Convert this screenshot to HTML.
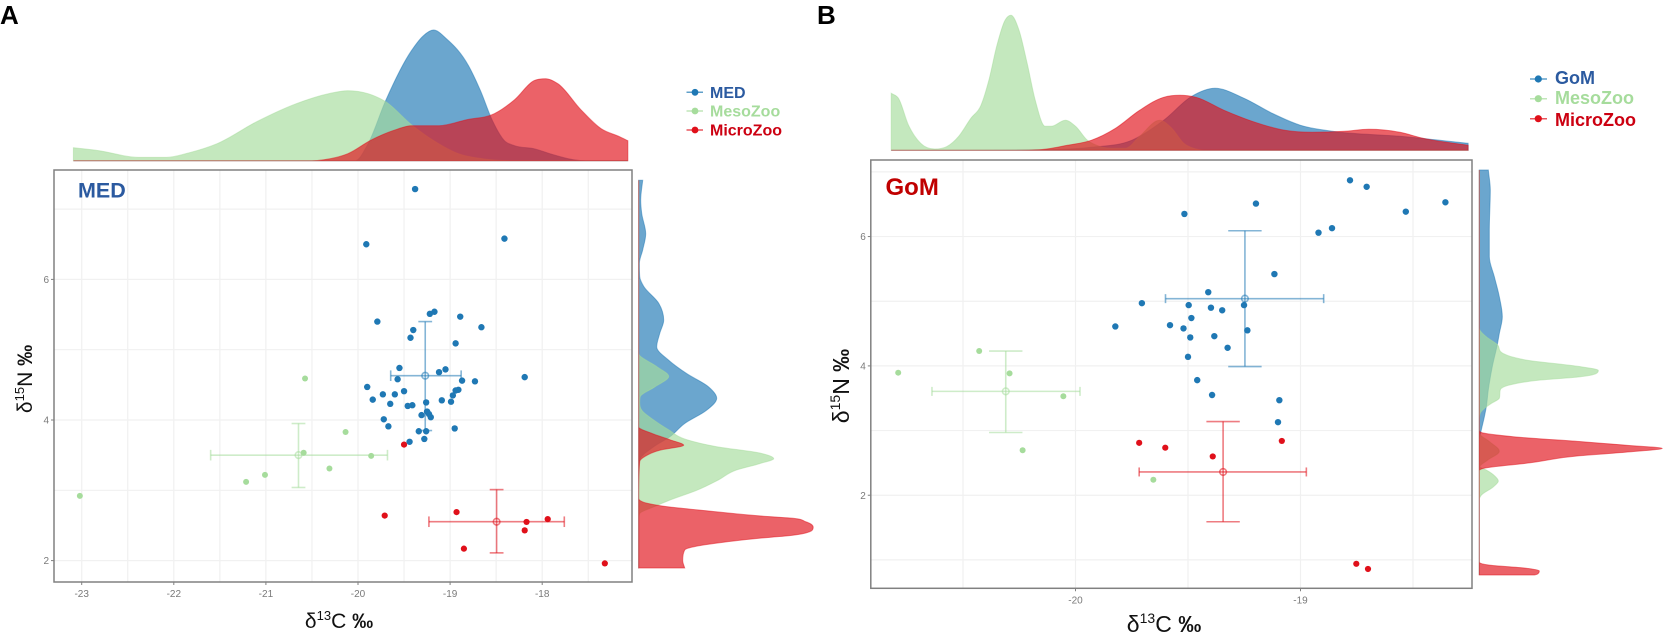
<!DOCTYPE html>
<html lang="en">
<head>
<meta charset="utf-8">
<title>Isotope biplots MED and GoM</title>
<style>
html,body{margin:0;padding:0;background:#fff;}
body{width:1665px;height:635px;overflow:hidden;}
svg{display:block;font-family:"Liberation Sans",sans-serif;filter:blur(0.35px);}
</style>
</head>
<body>
<svg id="chart" width="1665" height="635" viewBox="0 0 1665 635" xmlns="http://www.w3.org/2000/svg">
<rect width="1665" height="635" fill="#fff"/>
<text x="0" y="24" font-size="26" font-weight="700" fill="#000">A</text>
<text x="817" y="24" font-size="26" font-weight="700" fill="#000">B</text>
<g id="panelA"></g>
<g id="panelB"></g>
<text x="78" y="197.5" font-size="21.5" font-weight="700" fill="#2b5aa0">MED</text>
<text x="885.5" y="195" font-size="24" font-weight="700" fill="#c00000">GoM</text>
<text x="339" y="628" font-size="21" text-anchor="middle" fill="#111">δ<tspan font-size="13" dy="-8">13</tspan><tspan dy="8">C </tspan><tspan font-weight="700">‰</tspan></text>
<text transform="translate(32 379) rotate(-90)" font-size="21" text-anchor="middle" fill="#111">δ<tspan font-size="13" dy="-8">15</tspan><tspan dy="8">N </tspan><tspan font-weight="700">‰</tspan></text>
<text x="1164" y="632" font-size="23" text-anchor="middle" fill="#111">δ<tspan font-size="14" dy="-9">13</tspan><tspan dy="9">C </tspan><tspan font-weight="700">‰</tspan></text>
<text transform="translate(849 386) rotate(-90)" font-size="23" text-anchor="middle" fill="#111">δ<tspan font-size="14" dy="-9">15</tspan><tspan dy="9">N </tspan><tspan font-weight="700">‰</tspan></text>
<g>
<g><line x1="686.5" x2="703" y1="92.3" y2="92.3" stroke="#1f78b4" stroke-width="1.5" opacity=".7"/><circle cx="695" cy="92.3" r="3.4" fill="#1f78b4"/><text x="710" y="98" font-size="16" font-weight="700" fill="#2b5aa0">MED</text></g>
<g><line x1="686.5" x2="703" y1="111" y2="111" stroke="#a6dc9c" stroke-width="1.5" opacity=".7"/><circle cx="695" cy="111" r="3.4" fill="#a6dc9c"/><text x="710" y="116.7" font-size="16" font-weight="700" fill="#a6dc9c">MesoZoo</text></g>
<g><line x1="686.5" x2="703" y1="130" y2="130" stroke="#e0101a" stroke-width="1.5" opacity=".7"/><circle cx="695" cy="130" r="3.4" fill="#e0101a"/><text x="710" y="135.7" font-size="16" font-weight="700" fill="#cc0011">MicroZoo</text></g>
</g>
<g>
<g><line x1="1530" x2="1547" y1="79" y2="79" stroke="#1f78b4" stroke-width="1.5" opacity=".7"/><circle cx="1538.3" cy="79" r="3.6" fill="#1f78b4"/><text x="1555" y="84" font-size="18" font-weight="700" fill="#2b5aa0">GoM</text></g>
<g><line x1="1530" x2="1547" y1="98.7" y2="98.7" stroke="#a6dc9c" stroke-width="1.5" opacity=".7"/><circle cx="1538.3" cy="98.7" r="3.6" fill="#a6dc9c"/><text x="1555" y="104" font-size="18" font-weight="700" fill="#a6dc9c">MesoZoo</text></g>
<g><line x1="1530" x2="1547" y1="118.7" y2="118.7" stroke="#e0101a" stroke-width="1.5" opacity=".7"/><circle cx="1538.3" cy="118.7" r="3.6" fill="#e0101a"/><text x="1555" y="126" font-size="18" font-weight="700" fill="#cc0011">MicroZoo</text></g>
</g>
</svg>
<script>
// ===== Panel A (MED) data =====
const aXTicks = [-23, -22, -21, -20, -19, -18];
const aXGrid = [-23, -22.5, -22, -21.5, -21, -20.5, -20, -19.5, -19, -18.5, -18, -17.5];
const aYTicks = [2, 4, 6];
const aYGrid = [2, 3, 4, 5, 6, 7];

const aBlueX = [-19.38,-19.91,-18.41,-19.22,-19.17,-18.89,-19.79,-18.66,-19.40,-19.43,-18.94,-19.55,-19.12,-19.05,-19.57,-18.87,-18.73,-18.19,-19.90,-19.50,-19.60,-19.73,-18.94,-18.91,-18.97,-19.84,-19.65,-19.46,-19.41,-19.26,-19.09,-18.99,-19.31,-19.25,-19.23,-19.21,-19.72,-19.67,-18.95,-19.34,-19.26,-19.28,-19.44];
const aBlueY = [7.285,6.50,6.58,5.51,5.54,5.47,5.40,5.32,5.28,5.17,5.09,4.74,4.68,4.72,4.58,4.56,4.55,4.61,4.47,4.41,4.365,4.365,4.42,4.43,4.35,4.29,4.23,4.20,4.21,4.25,4.28,4.26,4.07,4.12,4.085,4.04,4.01,3.91,3.88,3.84,3.84,3.73,3.69];
const aGreenX = [-23.02,-21.215,-21.01,-20.59,-20.31,-20.135,-19.857,-20.575];
const aGreenY = [2.92,3.12,3.22,3.535,3.31,3.83,3.49,4.59];
const aRedX = [-19.50,-19.71,-18.93,-18.17,-18.19,-17.94,-18.85,-17.32];
const aRedY = [3.65,2.64,2.69,2.55,2.43,2.59,2.17,1.96];

const aBlueMean = [-19.27, 4.63];
const aBlueRangeX = [-19.645, -18.88];
const aBlueRangeY = [3.85, 5.40];
const aGreenMean = [-20.646, 3.50];
const aGreenRangeX = [-21.60, -19.68];
const aGreenRangeY = [3.04, 3.95];
const aRedMean = [-18.495, 2.553];
const aRedRangeX = [-19.23, -17.76];
const aRedRangeY = [2.11, 3.01];

const aTopBlueV = [-23.09,-20.03,-19.89,-19.70,-19.42,-19.29,-19.18,-19.04,-18.80,-18.67,-18.54,-18.41,-18.30,-18.09,-17.88,-17.66,-17.53,-17.07];
const aTopBlueD = [0,0,17,60,110,125,130.7,122,95,70,40,20,15,12,6,1,0,0];
const aTopGreenV = [-23.09,-22.81,-22.385,-22.08,-21.83,-21.53,-21.10,-20.67,-20.32,-20.11,-19.89,-19.70,-19.42,-19.16,-18.91,-18.65,-18.30,-17.07];
const aTopGreenD = [13,10,3.3,3.3,8,17,39,57,67,70,67,59,36,19,7,2,0,0];
const aTopRedV = [-23.09,-20.5,-20.37,-20.11,-19.85,-19.59,-19.42,-19.12,-18.82,-18.52,-18.30,-18.09,-17.96,-17.83,-17.58,-17.36,-17.16,-17.07];
const aTopRedD = [0,0,1,7,21,31,35,35,41,47,61,80,82,77,51,32,24,20];

const aSideBlueV = [7.41,7.13,6.94,6.65,6.42,6.23,6.04,5.90,5.66,5.42,5.23,5.04,4.85,4.66,4.47,4.31,4.14,3.95,3.76,3.62,3.43,3.19,1.89];
const aSideBlueD = [4,2,3,7,4,0.7,1,5,20,25,21,18,30,48,70,78,68,46,31,15,1,0,0];
const aSideGreenV = [7.41,4.95,4.76,4.62,4.47,4.33,4.24,4.14,4.00,3.86,3.72,3.62,3.53,3.45,3.38,3.29,3.15,3.00,2.86,2.77,2.67,2.58,1.89];
const aSideGreenD = [0,0,18,30,16,1.5,1,3,15,30,48,78,121,135,121,98,80,58,31,16,1,0,0];
const aSideRedV = [7.41,3.90,3.81,3.72,3.64,3.57,3.48,3.41,2.885,2.81,2.762,2.72,2.625,2.606,2.553,2.474,2.393,2.35,2.331,2.279,2.151,2.0,1.895];
const aSideRedD = [0,0,13,31,45,21,6,1,0,10,31,60,131,151,167,174.5,167,147,131,95,46,44,46];

// ===== Panel B (GoM) data =====
const bXTicks = [-20, -19];
const bXGrid = [-20.5, -20, -19.5, -19, -18.5];
const bYTicks = [2, 4, 6];
const bYGrid = [1, 2, 3, 4, 5, 6, 7];

const bBlueX = [-18.78,-18.706,-19.198,-19.516,-18.92,-18.86,-19.116,-19.41,-19.705,-19.497,-19.398,-19.348,-19.251,-19.485,-19.58,-19.52,-19.823,-19.49,-19.383,-19.236,-19.324,-19.50,-19.459,-19.393,-19.094,-19.10,-18.532,-18.356];
const bBlueY = [6.87,6.77,6.51,6.35,6.06,6.13,5.42,5.14,4.97,4.94,4.90,4.86,4.94,4.74,4.63,4.58,4.61,4.44,4.46,4.55,4.28,4.14,3.78,3.55,3.47,3.13,6.385,6.53];
const bGreenX = [-20.788,-20.428,-20.293,-20.054,-20.235,-19.654];
const bGreenY = [3.895,4.23,3.885,3.53,2.695,2.24];
const bRedX = [-19.717,-19.601,-19.39,-19.083,-18.752,-18.70];
const bRedY = [2.81,2.735,2.60,2.84,0.94,0.86];

const bBlueMean = [-19.247, 5.04];
const bBlueRangeX = [-19.60, -18.897];
const bBlueRangeY = [3.99, 6.09];
const bGreenMean = [-20.31, 3.606];
const bGreenRangeX = [-20.638, -19.98];
const bGreenRangeY = [2.97, 4.23];
const bRedMean = [-19.344, 2.36];
const bRedRangeX = [-19.717, -18.974];
const bRedRangeY = [1.59, 3.14];

const bTopBlueV = [-20.82,-20.162,-19.93,-19.75,-19.608,-19.483,-19.38,-19.251,-19.126,-19.0,-18.858,-18.558,-18.255];
const bTopBlueD = [0,0.5,3,10,30,54,62,52,37,25,19,14,7];
const bTopGreenV = [-20.819,-20.787,-20.742,-20.688,-20.626,-20.572,-20.519,-20.465,-20.42,-20.385,-20.349,-20.313,-20.287,-20.251,-20.215,-20.179,-20.135,-20.108,-20.045,-20.0,-19.947,-19.894,-19.822,-19.778,-19.715,-19.626,-19.572,-19.519,-19.465,-19.412,-18.255];
const bTopGreenD = [57,52,25,7,1.3,3.7,14,32,45,70,105,130,135,120,87,50,24,24,30,24,10,4,2,2,14,30,22,7,1.3,0,0];
const bTopRedV = [-20.819,-20.3,-20.162,-20.036,-19.93,-19.822,-19.715,-19.608,-19.536,-19.465,-19.34,-19.215,-19.07,-18.947,-18.804,-18.697,-18.558,-18.456,-18.255];
const bTopRedD = [0,0,0.5,5,10,22,40,53,55,53,40,29,20,18,19,21,18,12,5];

const bSideBlueV = [7.03,6.72,6.10,5.69,5.38,5.07,4.76,4.50,4.33,3.99,3.63,3.37,3.21,3.01,2.85,0.766];
const bSideBlueD = [9,11,10,10,15,20,23,20,18,13,9,7,5,2,0,0];
const bSideGreenV = [7.03,4.58,4.45,4.33,4.19,4.09,3.99,3.93,3.83,3.78,3.70,3.63,3.50,3.42,3.27,3.16,2.96,2.83,2.68,2.54,2.44,2.39,2.29,2.22,2.13,2.0,1.93,0.766];
const bSideGreenD = [0,0,7,18,24,47,100,119,100,60,29,21,20,12,1,0,0,10,20,8,0.5,7,16,19,14,2,0,0];
const bSideRedV = [7.03,3.01,2.97,2.905,2.83,2.77,2.725,2.67,2.61,2.50,2.415,2.38,0.968,0.92,0.875,0.83,0.78,0.766];
const bSideRedD = [0,0,2,34,100,150,183,150,100,50,4,0,0,10,45,60,58,55];

const SVGNS = 'http://www.w3.org/2000/svg';
const BLUE = '#1f78b4', GREEN = '#a6dc9c', RED = '#e0101a';

function mk(parent, tag, attrs) {
  const el = document.createElementNS(SVGNS, tag);
  for (const k in attrs) el.setAttribute(k, attrs[k]);
  parent.appendChild(el);
  return el;
}
function monotonePts(p) {
  const n = p.length, dx = [], m = [], t = [];
  for (let i = 0; i < n - 1; i++) {
    dx[i] = p[i + 1][0] - p[i][0];
    m[i] = (p[i + 1][1] - p[i][1]) / (dx[i] || 1e-6);
  }
  t[0] = m[0]; t[n - 1] = m[n - 2];
  for (let i = 1; i < n - 1; i++) {
    if (m[i - 1] * m[i] <= 0) { t[i] = 0; continue; }
    const central = (m[i - 1] * dx[i] + m[i] * dx[i - 1]) / (dx[i] + dx[i - 1]);
    const limit = 3 * Math.min(Math.abs(m[i - 1]), Math.abs(m[i]));
    t[i] = Math.sign(central) * Math.min(Math.abs(central), limit);
  }
  let d = 'M' + p[0][0].toFixed(2) + ' ' + p[0][1].toFixed(2);
  for (let i = 0; i < n - 1; i++) {
    const h = dx[i] / 3;
    d += 'C' + (p[i][0] + h).toFixed(2) + ' ' + (p[i][1] + t[i] * h).toFixed(2) + ' ' +
      (p[i + 1][0] - h).toFixed(2) + ' ' + (p[i + 1][1] - t[i + 1] * h).toFixed(2) + ' ' +
      p[i + 1][0].toFixed(2) + ' ' + p[i + 1][1].toFixed(2);
  }
  return d;
}
function monotoneSide(p) {
  // interpolate along the y direction by swapping coordinates
  const sorted = p.slice().sort((a, b) => a[1] - b[1]).map(q => [q[1], q[0]]);
  const d = monotonePts(sorted);
  return d.replace(/(-?[\d.]+) (-?[\d.]+)/g, '$2 $1');
}
function topArea(parent, vs, ds, xScale, base, color) {
  const pts = vs.map((v, i) => [xScale(v), base - ds[i]]);
  const d = monotonePts(pts) + 'L' + pts[pts.length - 1][0].toFixed(2) + ' ' + base + 'L' + pts[0][0].toFixed(2) + ' ' + base + 'Z';
  const el = mk(parent, 'path', { d: d, fill: color, 'fill-opacity': 0.66, stroke: color, 'stroke-opacity': 0.5, 'stroke-width': 1 });
  return el;
}
function sideArea(parent, vs, ds, yScale, base, color) {
  const pts = vs.map((v, i) => [base + ds[i], yScale(v)]);
  const top = Math.min(...pts.map(q => q[1])), bot = Math.max(...pts.map(q => q[1]));
  const d = monotoneSide(pts) + 'L' + base + ' ' + bot.toFixed(2) + 'L' + base + ' ' + top.toFixed(2) + 'Z';
  const el = mk(parent, 'path', { d: d, fill: color, 'fill-opacity': 0.66, stroke: color, 'stroke-opacity': 0.5, 'stroke-width': 1 });
  return el;
}
function errorBars(parent, mean, rx, ry, x, y, color, capX, capY) {
  const g = mk(parent, 'g', { stroke: color, 'stroke-opacity': 0.55, 'stroke-width': 1.6, fill: 'none' });
  mk(g, 'line', { x1: x(rx[0]), x2: x(rx[1]), y1: y(mean[1]), y2: y(mean[1]) });
  mk(g, 'line', { x1: x(mean[0]), x2: x(mean[0]), y1: y(ry[0]), y2: y(ry[1]) });
  mk(g, 'line', { x1: x(rx[0]), x2: x(rx[0]), y1: y(mean[1]) - capY, y2: y(mean[1]) + capY });
  mk(g, 'line', { x1: x(rx[1]), x2: x(rx[1]), y1: y(mean[1]) - capY, y2: y(mean[1]) + capY });
  mk(g, 'line', { x1: x(mean[0]) - capX, x2: x(mean[0]) + capX, y1: y(ry[0]), y2: y(ry[0]) });
  mk(g, 'line', { x1: x(mean[0]) - capX, x2: x(mean[0]) + capX, y1: y(ry[1]), y2: y(ry[1]) });
  mk(g, 'circle', { cx: x(mean[0]), cy: y(mean[1]), r: 3.3 });
  return g;
}
function points(parent, xs, ys, x, y, color, r) {
  const g = mk(parent, 'g', { fill: color });
  xs.forEach((v, i) => {
    const c = mk(g, 'circle', { cx: x(v), cy: y(ys[i]), r: r });
    
    
  });
  return g;
}
function frameAndGrid(parent, box, x, y, xGrid, yGrid, xTicks, yTicks) {
  const g = mk(parent, 'g', {});
  
  
  xGrid.forEach(v => mk(g, 'line', { x1: x(v), x2: x(v), y1: box.t, y2: box.b, stroke: '#f0f0f0', 'stroke-width': 1.2 }));
  yGrid.forEach(v => mk(g, 'line', { x1: box.l, x2: box.r, y1: y(v), y2: y(v), stroke: '#f1f1f1', 'stroke-width': 1.2 }));
  const ax = mk(parent, 'g', { fill: '#7a7a7a', 'font-size': 10 });
  
  
  xTicks.forEach(v => {
    mk(ax, 'line', { x1: x(v), x2: x(v), y1: box.b, y2: box.b + 3, stroke: '#808080', 'stroke-width': 1 });
    const t = mk(ax, 'text', { x: x(v), y: box.b + 15, 'text-anchor': 'middle' });
    t.textContent = String(v);
    
    
  });
  yTicks.forEach(v => {
    mk(ax, 'line', { x1: box.l - 3, x2: box.l, y1: y(v), y2: y(v), stroke: '#808080', 'stroke-width': 1 });
    const t = mk(ax, 'text', { x: box.l - 5, y: y(v) + 3.6, 'text-anchor': 'end' });
    t.textContent = String(v);
    
    
  });
}
function frame(parent, box) {
  const f = mk(parent, 'rect', { x: box.l, y: box.t, width: box.r - box.l, height: box.b - box.t, fill: 'none', stroke: '#808080', 'stroke-width': 1.5 });
  
  
}

// Panel A
(function () {
  const p = document.getElementById('panelA');
  const box = { l: 54, r: 632, t: 170, b: 582 };
  const x = v => 81.7 + (v + 23) * 92.1;
  const y = v => 420 - (v - 4) * 70.3;
  const topBase = 160.7, sideBase = 638.7;
  frameAndGrid(p, box, x, y, aXGrid, aYGrid, aXTicks, aYTicks);

  const top = mk(p, 'g', {});
  
  
  const a1 = topArea(top, aTopBlueV, aTopBlueD, x, topBase, BLUE);
  
  const a2 = topArea(top, aTopGreenV, aTopGreenD, x, topBase, GREEN);
  
  const a3 = topArea(top, aTopRedV, aTopRedD, x, topBase, RED);
  

  const side = mk(p, 'g', {});
  
  
  const s1 = sideArea(side, aSideBlueV, aSideBlueD, y, sideBase, BLUE);
  
  const s2 = sideArea(side, aSideGreenV, aSideGreenD, y, sideBase, GREEN);
  
  const s3 = sideArea(side, aSideRedV, aSideRedD, y, sideBase, RED);
  

  const e1 = errorBars(p, aGreenMean, aGreenRangeX, aGreenRangeY, x, y, GREEN, 6.9, 5.3);
  
  const e2 = errorBars(p, aRedMean, aRedRangeX, aRedRangeY, x, y, RED, 6.9, 5.3);
  
  points(p, aGreenX, aGreenY, x, y, GREEN, 3);
  points(p, aRedX, aRedY, x, y, RED, 3.1);
  points(p, aBlueX, aBlueY, x, y, BLUE, 3.2);
  const e3 = errorBars(p, aBlueMean, aBlueRangeX, aBlueRangeY, x, y, BLUE, 6.9, 5.3);
  
  frame(p, box);
})();

// Panel B
(function () {
  const p = document.getElementById('panelB');
  const box = { l: 870.8, r: 1472, t: 160, b: 588.3 };
  const x = v => 1075.5 + (v + 20) * 225;
  const y = v => 365.9 - (v - 4) * 64.67;
  const topBase = 150.3, sideBase = 1479.3;
  frameAndGrid(p, box, x, y, bXGrid, bYGrid, bXTicks, bYTicks);

  const top = mk(p, 'g', {});
  
  
  const a1 = topArea(top, bTopBlueV, bTopBlueD, x, topBase, BLUE);
  
  const a2 = topArea(top, bTopGreenV, bTopGreenD, x, topBase, GREEN);
  
  const a3 = topArea(top, bTopRedV, bTopRedD, x, topBase, RED);
  

  const side = mk(p, 'g', {});
  
  
  const s1 = sideArea(side, bSideBlueV, bSideBlueD, y, sideBase, BLUE);
  
  const s2 = sideArea(side, bSideGreenV, bSideGreenD, y, sideBase, GREEN);
  
  const s3 = sideArea(side, bSideRedV, bSideRedD, y, sideBase, RED);
  

  const e1 = errorBars(p, bGreenMean, bGreenRangeX, bGreenRangeY, x, y, GREEN, 16.7, 4.5);
  
  const e2 = errorBars(p, bRedMean, bRedRangeX, bRedRangeY, x, y, RED, 16.7, 4.5);
  
  const e3 = errorBars(p, bBlueMean, bBlueRangeX, bBlueRangeY, x, y, BLUE, 16.7, 4.5);
  
  points(p, bGreenX, bGreenY, x, y, GREEN, 3);
  points(p, bRedX, bRedY, x, y, RED, 3.1);
  points(p, bBlueX, bBlueY, x, y, BLUE, 3.2);
  frame(p, box);
})();
</script>
</body>
</html>
